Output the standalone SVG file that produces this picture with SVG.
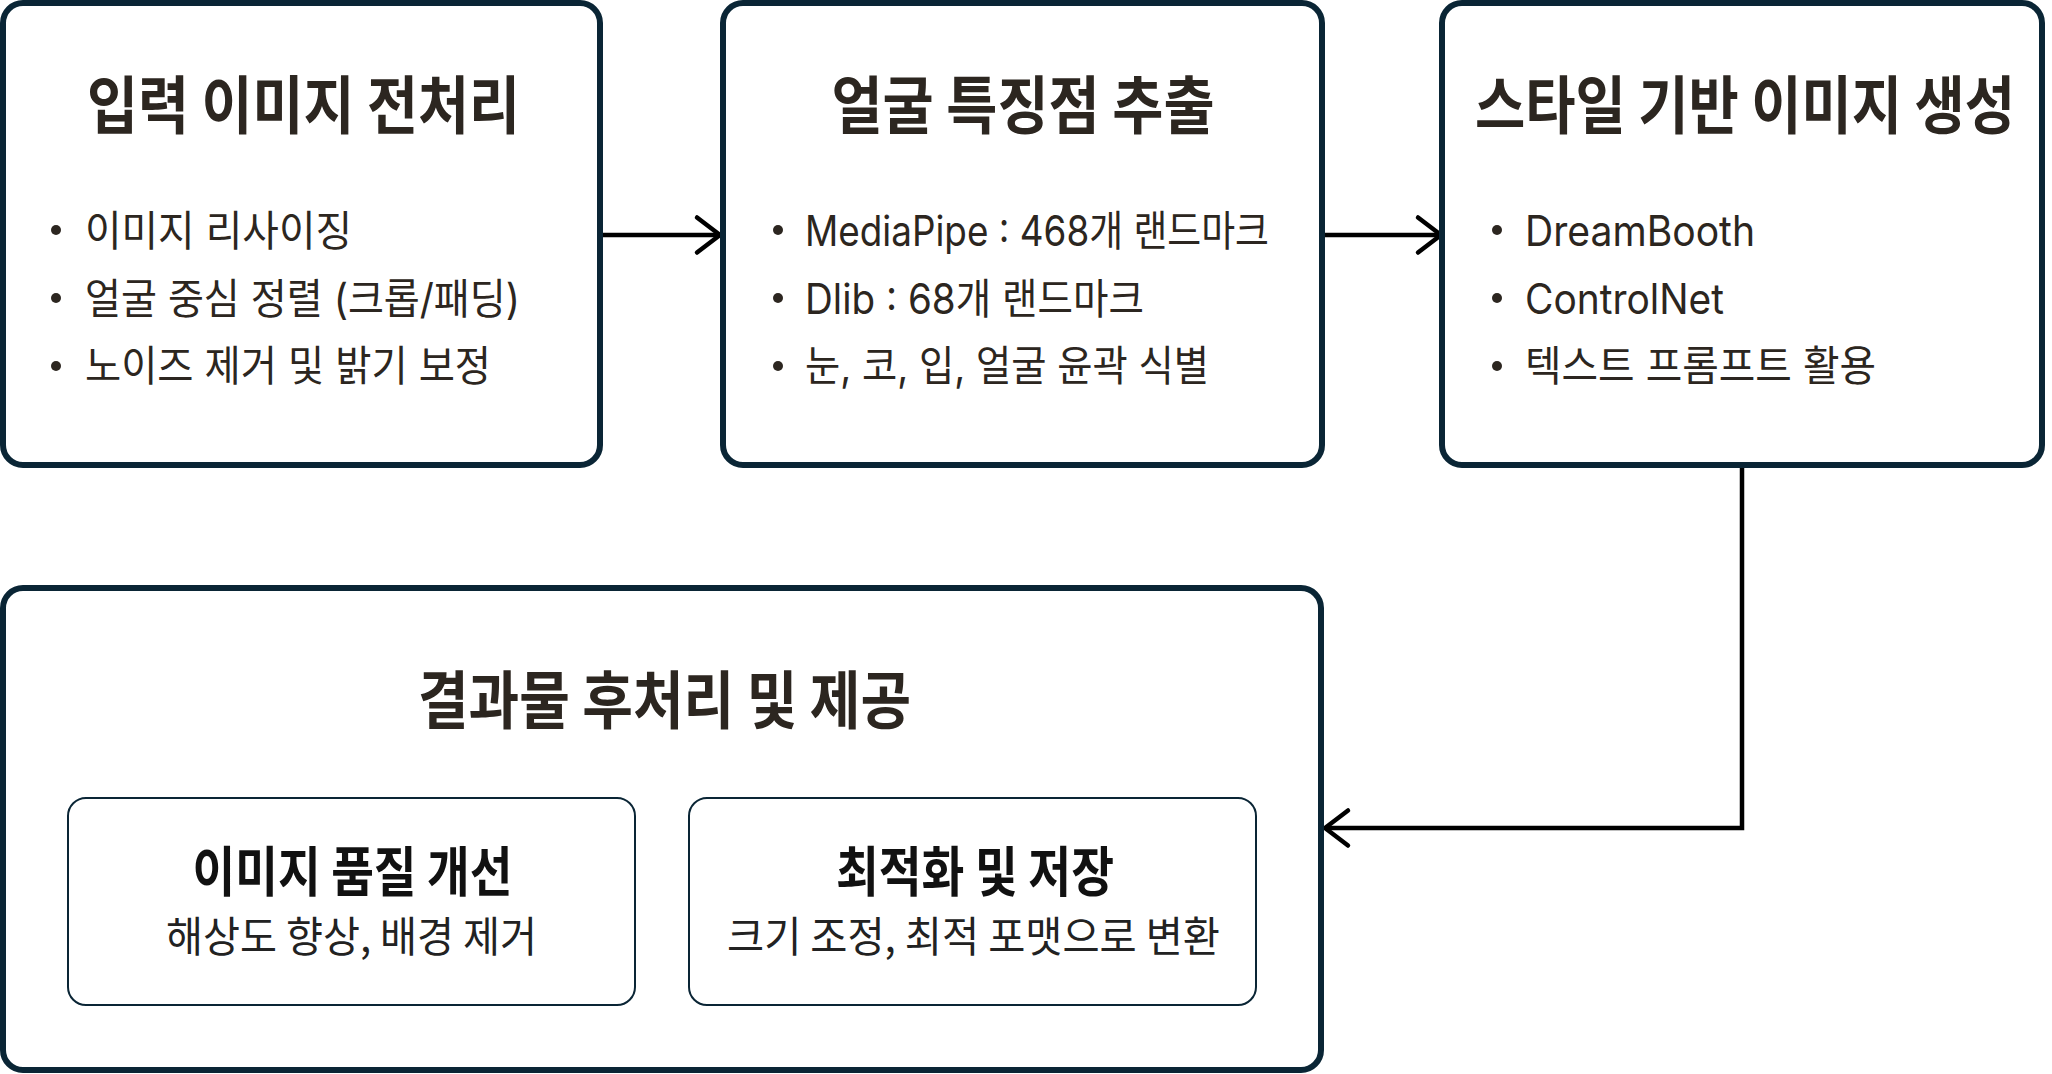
<svg xmlns="http://www.w3.org/2000/svg" width="2052" height="1074" viewBox="0 0 2052 1074">
<style>
.box{fill:#ffffff;stroke:#0a2535;stroke-width:6}
.inner{fill:#ffffff;stroke:#0a2535;stroke-width:2}
.title{font-family:"Noto Sans CJK KR",sans-serif;font-weight:700;font-size:63px;fill:#2c2620}
.item{font-family:"Inter","Noto Sans CJK KR",sans-serif;font-weight:400;font-size:42px;fill:#2c2620}
.ititle{font-family:"Noto Sans CJK KR",sans-serif;font-weight:700;font-size:54px;fill:#111111}
.isub{font-family:"Noto Sans CJK KR",sans-serif;font-weight:400;font-size:42px;fill:#222222}
.dot{fill:#2c2620}
.conn{fill:none;stroke:#000000;stroke-width:4.5}
</style>
<defs>
<marker id="chev" markerUnits="userSpaceOnUse" viewBox="-26 -20 30 40" refX="0" refY="0" markerWidth="30" markerHeight="40" orient="auto" overflow="visible">
<path d="M-23,-17.5 L0,0 L-23,17.5" fill="none" stroke="#000000" stroke-width="4.5" stroke-linecap="round" stroke-linejoin="round"/>
</marker>
</defs>
<rect width="2052" height="1074" fill="#ffffff"/>

<g id="connectors">
<path class="conn" d="M600,235 H720" marker-end="url(#chev)"/>
<path class="conn" d="M1322,235 H1441" marker-end="url(#chev)"/>
<path class="conn" d="M1742,468 V828 H1325" marker-end="url(#chev)"/>
</g>

<g id="node-preprocess">
<rect class="box" x="3" y="3" width="597" height="462" rx="20"/>
<text class="title" x="303.5" y="128" text-anchor="middle" textLength="433" lengthAdjust="spacingAndGlyphs">입력 이미지 전처리</text>
<circle class="dot" cx="56" cy="230" r="5"/>
<circle class="dot" cx="56" cy="298" r="5"/>
<circle class="dot" cx="56" cy="366" r="5"/>
<text class="item" x="85" y="246" textLength="267" lengthAdjust="spacingAndGlyphs">이미지 리사이징</text>
<text class="item" x="85" y="314" textLength="435" lengthAdjust="spacingAndGlyphs">얼굴 중심 정렬 (크롭/패딩)</text>
<text class="item" x="85" y="381" textLength="406" lengthAdjust="spacingAndGlyphs">노이즈 제거 및 밝기 보정</text>
</g>

<g id="node-landmarks">
<rect class="box" x="723" y="3" width="599" height="462" rx="20"/>
<text class="title" x="1023" y="128" text-anchor="middle" textLength="383" lengthAdjust="spacingAndGlyphs">얼굴 특징점 추출</text>
<circle class="dot" cx="778" cy="230" r="5"/>
<circle class="dot" cx="778" cy="298" r="5"/>
<circle class="dot" cx="778" cy="366" r="5"/>
<text class="item" x="805" y="246" textLength="464" lengthAdjust="spacingAndGlyphs">MediaPipe : 468개 랜드마크</text>
<text class="item" x="805" y="314" textLength="339" lengthAdjust="spacingAndGlyphs">Dlib : 68개 랜드마크</text>
<text class="item" x="805" y="381" textLength="404" lengthAdjust="spacingAndGlyphs">눈, 코, 입, 얼굴 윤곽 식별</text>
</g>

<g id="node-generation">
<rect class="box" x="1442" y="3" width="600" height="462" rx="20"/>
<text class="title" x="1745" y="128" text-anchor="middle" textLength="540" lengthAdjust="spacingAndGlyphs">스타일 기반 이미지 생성</text>
<circle class="dot" cx="1497" cy="230" r="5"/>
<circle class="dot" cx="1497" cy="298" r="5"/>
<circle class="dot" cx="1497" cy="366" r="5"/>
<text class="item" x="1525" y="246" textLength="230" lengthAdjust="spacingAndGlyphs">DreamBooth</text>
<text class="item" x="1525" y="314" textLength="199" lengthAdjust="spacingAndGlyphs">ControlNet</text>
<text class="item" x="1525" y="381" textLength="351" lengthAdjust="spacingAndGlyphs">텍스트 프롬프트 활용</text>
</g>

<g id="node-postprocess">
<rect class="box" x="3" y="588" width="1318" height="482" rx="20"/>
<text class="title" x="664.5" y="723" text-anchor="middle" textLength="493" lengthAdjust="spacingAndGlyphs">결과물 후처리 및 제공</text>
</g>

<g id="node-quality">
<rect class="inner" x="68" y="798" width="567" height="207" rx="18"/>
<text class="ititle" x="352.5" y="892" text-anchor="middle" textLength="320" lengthAdjust="spacingAndGlyphs">이미지 품질 개선</text>
<text class="isub" x="351.5" y="952" text-anchor="middle" textLength="371" lengthAdjust="spacingAndGlyphs">해상도 향상, 배경 제거</text>
</g>

<g id="node-save">
<rect class="inner" x="689" y="798" width="567" height="207" rx="18"/>
<text class="ititle" x="975" y="892" text-anchor="middle" textLength="278" lengthAdjust="spacingAndGlyphs">최적화 및 저장</text>
<text class="isub" x="973.5" y="952" text-anchor="middle" textLength="493" lengthAdjust="spacingAndGlyphs">크기 조정, 최적 포맷으로 변환</text>
</g>
</svg>
